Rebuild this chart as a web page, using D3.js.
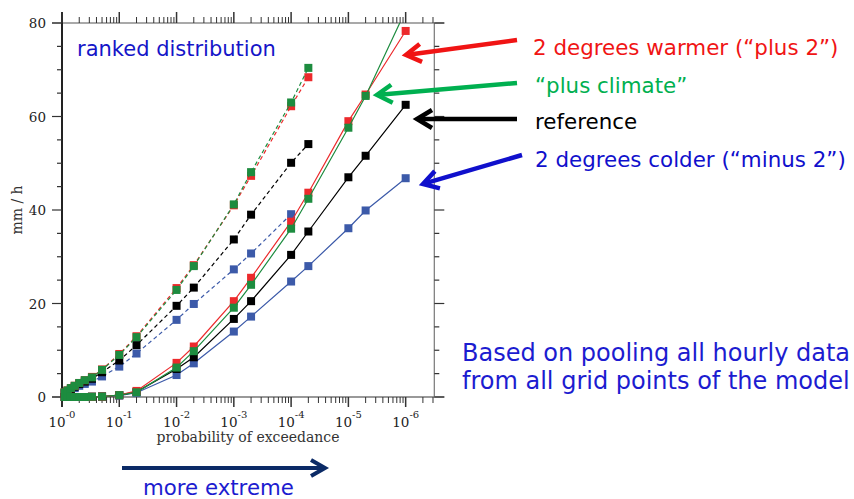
<!DOCTYPE html>
<html>
<head>
<meta charset="utf-8">
<script src="https://cdn.jsdelivr.net/npm/d3@7"></script>
<style>
  body { margin: 0; background: #fff; }
  svg { display: block; }
</style>
</head>
<body>
<svg id="chart" width="854" height="499"></svg>
<script>

// exceedance probabilities of the ranked points
var probs = [0.9, 0.8, 0.7, 0.6, 0.5, 0.4, 0.3, 0.2, 0.1, 0.05, 0.01, 0.005,
             0.001, 0.0005, 1e-4, 5e-5, 1e-5, 5e-6, 1e-6];

// dashed curves (mm/h)
var dashRed   = [1.0, 1.4, 1.9, 2.4, 3.0, 3.6, 4.3, 5.9, 9.2, 13.0, 23.3, 28.2, 41.0, 47.3, 62.2, 68.4];
var dashGreen = [1.0, 1.4, 1.9, 2.4, 3.0, 3.6, 4.2, 5.8, 9.0, 12.8, 22.9, 28.0, 41.2, 48.1, 63.0, 70.4];
var dashBlack = [0.9, 1.3, 1.7, 2.2, 2.8, 3.3, 3.9, 5.3, 7.8, 11.1, 19.5, 23.4, 33.7, 39.0, 50.1, 54.1];
var dashBlue  = [0.8, 1.1, 1.5, 1.9, 2.4, 2.8, 3.3, 4.4, 6.5, 9.3, 16.5, 19.9, 27.3, 30.7, 39.1];

// solid curves (mm/h)
var solidRed   = [0, 0, 0, 0, 0, 0, 0.05, 0.1, 0.4, 1.3, 7.3, 10.8, 20.5, 25.5, 37.5, 43.7, 59.0, 64.7, 78.3];
var solidGreen = [0, 0, 0, 0, 0, 0, 0.05, 0.1, 0.4, 1.0, 6.3, 9.8, 19.1, 24.0, 36.0, 42.4, 57.6, 64.4, 82.7];
var solidBlack = [0, 0, 0, 0, 0, 0, 0.05, 0.1, 0.4, 1.1, 6.0, 8.5, 16.7, 20.5, 30.4, 35.4, 47.0, 51.6, 62.5];
var solidBlue  = [0, 0, 0, 0, 0, 0, 0.05, 0.1, 0.3, 0.9, 4.7, 7.2, 14.0, 17.2, 24.7, 28.0, 36.1, 39.9, 46.8];

var yTicks = [0, 20, 40, 60, 80];
var xDecades = [0, 1, 2, 3, 4, 5, 6];

var legendLabels = ['2 degrees warmer (\u201cplus 2\u201d)', '\u201cplus climate\u201d',
                    'reference', '2 degrees colder (\u201cminus 2\u201d)'];

var colors = { red: '#ec2a2c', green: '#1d8c3f', black: '#000000', blue: '#3c5aa9' };

window.addEventListener('load', drawChart);

function drawChart() {

    var svg = d3.select('#chart');

    var left = 62, right = 434.3, top = 23, bottom = 397;

    // x is the return period 1/p on a log axis, labelled as probability
    var x = d3.scaleLog().domain([1, Math.pow(10, 6.5)]).range([left, right]);
    var y = d3.scaleLinear().domain([0, 80]).range([bottom, top]);

    var axisFont = 'DejaVu Serif, serif';

    //Frame lines
    var frame = svg.append('g').attr('class', 'frame');
    frame.append('line').attr('x1', left - 10).attr('x2', right + 10)
        .attr('y1', top).attr('y2', top).attr('stroke', '#555').attr('stroke-width', 1.2);
    frame.append('line').attr('x1', left - 10).attr('x2', right + 10)
        .attr('y1', bottom).attr('y2', bottom).attr('stroke', '#777').attr('stroke-width', 1.4);
    frame.append('line').attr('x1', right).attr('x2', right)
        .attr('y1', top).attr('y2', bottom).attr('stroke', '#777').attr('stroke-width', 1.2);
    frame.append('line').attr('x1', left).attr('x2', left)
        .attr('y1', top - 11).attr('y2', bottom + 10).attr('stroke', '#222').attr('stroke-width', 2);

    //Log ticks on top and bottom
    var logTicks = [];
    for (var k = 0; k <= 6; k++) {
        for (var m = 1; m <= 9; m++) {
            var v = m * Math.pow(10, k);
            if (v <= Math.pow(10, 6.5)) logTicks.push({ v: v, major: m === 1 });
        }
    }
    frame.selectAll('line.xb').data(logTicks).enter().append('line')
        .attr('class', 'xb')
        .attr('x1', d => x(d.v)).attr('x2', d => x(d.v))
        .attr('y1', bottom).attr('y2', d => bottom + (d.major ? 10 : 6))
        .attr('stroke', '#333').attr('stroke-width', d => d.major ? 1.5 : 1);
    frame.selectAll('line.xt').data(logTicks).enter().append('line')
        .attr('class', 'xt')
        .attr('x1', d => x(d.v)).attr('x2', d => x(d.v))
        .attr('y1', top).attr('y2', d => top - (d.major ? 11 : 6))
        .attr('stroke', '#333').attr('stroke-width', d => d.major ? 1.5 : 1);

    //Linear ticks on left and right
    var yMinor = d3.range(0, 81, 5);
    frame.selectAll('line.yl').data(yMinor).enter().append('line')
        .attr('class', 'yl')
        .attr('x1', left).attr('x2', d => left - (d % 20 === 0 ? 10 : 5))
        .attr('y1', d => y(d)).attr('y2', d => y(d))
        .attr('stroke', '#333').attr('stroke-width', 1.2);
    frame.selectAll('line.yr').data(yMinor).enter().append('line')
        .attr('class', 'yr')
        .attr('x1', right).attr('x2', d => right + (d % 20 === 0 ? 10 : 5))
        .attr('y1', d => y(d)).attr('y2', d => y(d))
        .attr('stroke', '#333').attr('stroke-width', 1.2);

    //Tick labels
    frame.selectAll('text.yt').data(yTicks).enter().append('text')
        .attr('class', 'yt')
        .attr('x', left - 16).attr('y', d => y(d) + 5)
        .attr('text-anchor', 'end')
        .attr('font-family', axisFont).attr('font-size', 13.5).attr('fill', '#222')
        .text(d => d);

    var xl = frame.selectAll('text.xl').data(xDecades).enter().append('text')
        .attr('class', 'xl')
        .attr('x', d => x(Math.pow(10, d)))
        .attr('y', 427)
        .attr('text-anchor', 'middle')
        .attr('font-family', axisFont).attr('font-size', 13.5).attr('fill', '#222');
    xl.append('tspan').text('10');
    xl.append('tspan').attr('dy', -9).attr('font-size', 10).text(d => '-' + d);

    svg.append('text')
        .attr('x', 248).attr('y', 442)
        .attr('text-anchor', 'middle')
        .attr('font-family', axisFont).attr('font-size', 14).attr('fill', '#333')
        .text('probability of exceedance');

    svg.append('text')
        .attr('transform', 'translate(21.5,210) rotate(-90)')
        .attr('text-anchor', 'middle')
        .attr('font-family', axisFont).attr('font-size', 14).attr('fill', '#333')
        .text('mm / h');

    //Series
    svg.append('clipPath').attr('id', 'plotClip').append('rect')
        .attr('x', left - 6).attr('y', top).attr('width', right - left + 6).attr('height', bottom - top + 6);

    var series = [
        { vals: dashBlue,   color: colors.blue,  dash: '4,3' },
        { vals: dashBlack,  color: colors.black, dash: '4,3' },
        { vals: dashRed,    color: colors.red,   dash: '4,3' },
        { vals: dashGreen,  color: colors.green, dash: '4,3' },
        { vals: solidBlue,  color: colors.blue,  dash: null },
        { vals: solidBlack, color: colors.black, dash: null },
        { vals: solidRed,   color: colors.red,   dash: null },
        { vals: solidGreen, color: colors.green, dash: null }
    ];

    var line = d3.line()
        .x(d => x(1 / d.p))
        .y(d => y(d.v));

    var plotG = svg.append('g').attr('clip-path', 'url(#plotClip)');

    series.forEach(function (s) {
        var pts = s.vals.map((v, i) => ({ p: probs[i], v: v }));
        var g = plotG.append('g');
        g.append('path').datum(pts)
            .attr('d', line)
            .attr('fill', 'none')
            .attr('stroke', s.color)
            .attr('stroke-width', 1.2)
            .attr('stroke-dasharray', s.dash);
        g.selectAll('rect').data(pts).enter().append('rect')
            .attr('x', d => x(1 / d.p) - 4)
            .attr('y', d => y(d.v) - 4)
            .attr('width', 8).attr('height', 8)
            .attr('fill', s.color);
    });

    //Annotations
    var sans = 'DejaVu Sans, Verdana, sans-serif';

    svg.append('text')
        .attr('x', 77).attr('y', 56)
        .attr('font-family', sans).attr('font-size', 21).attr('fill', '#1515c8')
        .text('ranked distribution');

    var legend = [
        { text: legendLabels[0], color: '#f01414', tx: 533, ty: 55, from: [517, 40], to: [406, 55] },
        { text: legendLabels[1], color: '#00b050', tx: 535, ty: 93, from: [517, 83], to: [377, 95] },
        { text: legendLabels[2], color: '#000000', tx: 535, ty: 129, from: [517, 119], to: [417, 119] },
        { text: legendLabels[3], color: '#1010cc', tx: 535, ty: 167, from: [522, 155], to: [423, 184] }
    ];

    legend.forEach(function (d) {
        drawArrow(svg, d.from, d.to, d.color, 4.5, 15, 9);
        svg.append('text')
            .attr('x', d.tx).attr('y', d.ty)
            .attr('font-family', sans).attr('font-size', 21.4).attr('fill', d.color)
            .text(d.text);
    });

    svg.append('text')
        .attr('x', 462).attr('y', 361)
        .attr('font-family', sans).attr('font-size', 24).attr('fill', '#1c1cd0')
        .text('Based on pooling all hourly data');
    svg.append('text')
        .attr('x', 462).attr('y', 389)
        .attr('font-family', sans).attr('font-size', 24).attr('fill', '#1c1cd0')
        .text('from all grid points of the model');

    drawArrow(svg, [122, 468], [325, 468], '#0b2a66', 4, 14, 8);
    svg.append('text')
        .attr('x', 143).attr('y', 495)
        .attr('font-family', sans).attr('font-size', 21.3).attr('fill', '#1c1cd0')
        .text('more extreme');
}

function drawArrow(svg, from, to, color, width, headLen, headWid) {
    var dx = to[0] - from[0], dy = to[1] - from[1];
    var len = Math.sqrt(dx * dx + dy * dy);
    var ux = dx / len, uy = dy / len;
    var nx = -uy, ny = ux;
    var bx = to[0] - headLen * ux, by = to[1] - headLen * uy;
    svg.append('line')
        .attr('x1', from[0]).attr('y1', from[1])
        .attr('x2', to[0] - ux * 2).attr('y2', to[1] - uy * 2)
        .attr('stroke', color).attr('stroke-width', width);
    svg.append('path')
        .attr('d', 'M' + (bx + headWid * nx) + ',' + (by + headWid * ny) +
                   'L' + to[0] + ',' + to[1] +
                   'L' + (bx - headWid * nx) + ',' + (by - headWid * ny))
        .attr('fill', 'none')
        .attr('stroke', color).attr('stroke-width', width)
        .attr('stroke-linejoin', 'miter').attr('stroke-linecap', 'butt');
}
</script>
</body>
</html>
